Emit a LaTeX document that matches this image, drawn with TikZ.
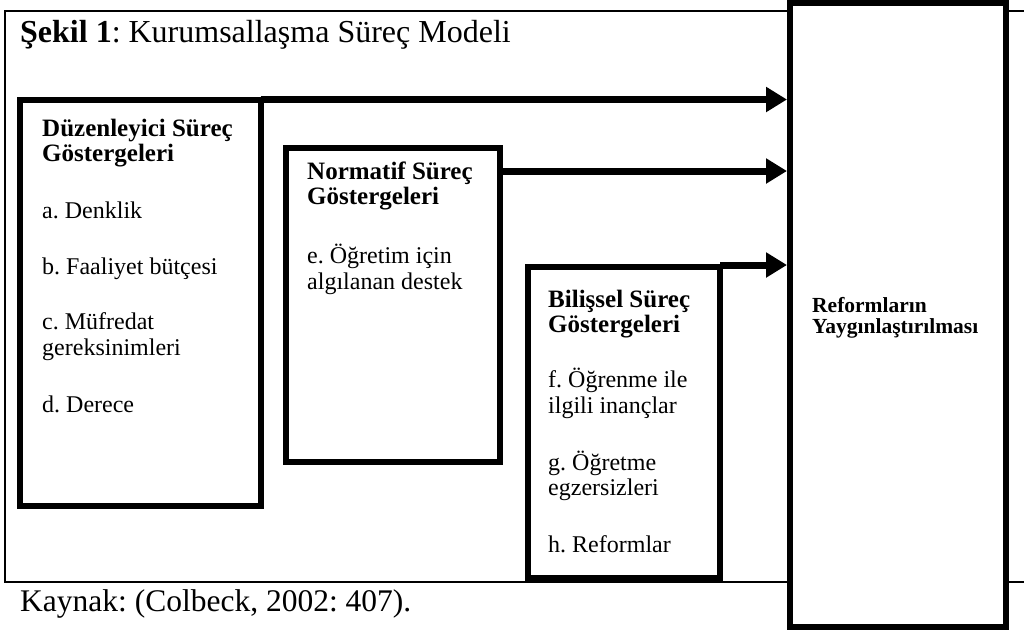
\documentclass[tikz,border=0pt]{standalone}
\usepackage{fontspec}
\setmainfont{Liberation Serif}
\usetikzlibrary{arrows.meta}
\frenchspacing
\begin{document}
\begin{tikzpicture}[x=1pt,y=-1pt,
  box/.style={draw, line width=6pt, fill=white, inner sep=0pt, outer sep=3pt},
  conn/.style={line width=7pt, -{Triangle[length=21pt,width=24pt]}},
  txt/.style={anchor=base west, inner sep=0pt, font=\fontsize{24}{26}\selectfont},
  hd/.style={anchor=base west, inner sep=0pt, font=\fontsize{25}{27}\selectfont\bfseries},
  rhd/.style={anchor=base west, inner sep=0pt, font=\fontsize{21.5}{24}\selectfont\bfseries}]
\useasboundingbox (0,0) rectangle (1024,630);
\draw[line width=2pt] (5,11) rectangle (1040,582);
% boxes
\node[box, minimum width=240.5pt, minimum height=406.5pt] (b1) at (140.25,302.75) {};
\node[box, minimum width=214pt, minimum height=314pt] (b2) at (393,305) {};
\node[box, minimum width=192pt, minimum height=311pt] (b3) at (624,422.5) {};
\node[box, minimum width=216pt, minimum height=624pt] (ref) at (898,315) {};
% connectors
\coordinate (a1s) at ([xshift=-3pt,yshift=-3pt]b1.north east);
\coordinate (a2s) at ([xshift=-3pt,yshift=-26pt]b2.north east);
\coordinate (a3s) at ([xshift=-3pt,yshift=-1pt]b3.north east);
\draw[conn] (a1s) -- (a1s -| ref.west);
\draw[conn] (a2s) -- (a2s -| ref.west);
\draw[conn] (a3s) -- (a3s -| ref.west);
% title and source
\node[anchor=base west, inner sep=0pt, font=\fontsize{32}{36}\selectfont] (title) at (20,42) {\textbf{Şekil 1}: Kurumsallaşma Süreç Modeli};
\node[anchor=base west, inner sep=0pt, font=\fontsize{31.5}{34}\selectfont] (src) at (20,611) {Kaynak: (Colbeck, 2002: 407).};
% box 1 text
\node[hd] (d1) at (42,136) {Düzenleyici Süreç};
\node[hd] (d2) at (42,161) {Göstergeleri};
\node[txt] (da) at (42,218) {a. Denklik};
\node[txt] (db) at (42,274) {b. Faaliyet bütçesi};
\node[txt] (dc1) at (42,329) {c. Müfredat};
\node[txt] (dc2) at (42,355) {gereksinimleri};
\node[txt] (dd) at (42,412) {d. Derece};
% box 2 text
\node[hd] (n1) at (307,179) {Normatif Süreç};
\node[hd] (n2) at (307,204) {Göstergeleri};
\node[txt] (ne1) at (307,263) {e. Öğretim için};
\node[txt] (ne2) at (307,289) {algılanan destek};
% box 3 text
\node[hd] (c1) at (548,307) {Bilişsel Süreç};
\node[hd] (c2) at (548,332) {Göstergeleri};
\node[txt] (cf1) at (548,387) {f. Öğrenme ile};
\node[txt] (cf2) at (548,413) {ilgili inançlar};
\node[txt] (cg1) at (548,470) {g. Öğretme};
\node[txt] (cg2) at (548,495) {egzersizleri};
\node[txt] (ch) at (548,552) {h. Reformlar};
% ref text
\node[rhd] (r1) at (812,312) {Reformların};
\node[rhd] (r2) at (812,333) {Yaygınlaştırılması};
\end{tikzpicture}
\end{document}
